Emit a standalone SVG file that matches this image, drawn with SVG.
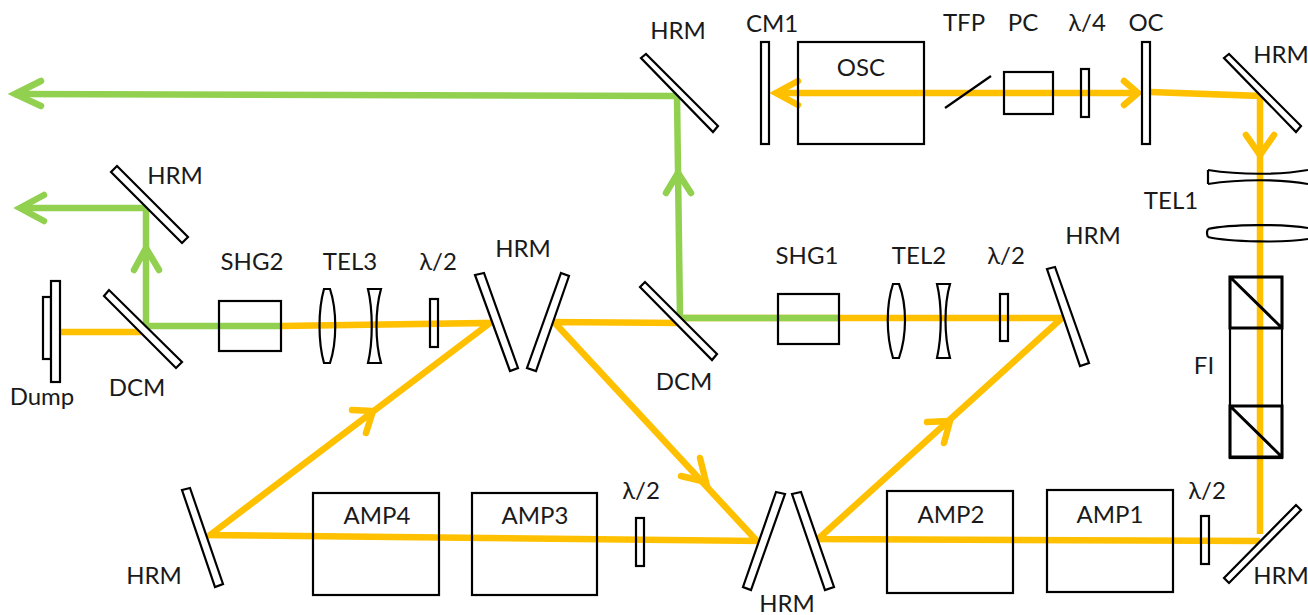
<svg xmlns="http://www.w3.org/2000/svg" width="1308" height="615" viewBox="0 0 1308 615">
<style>
text{font-family:"Lato","Open Sans","DejaVu Sans",sans-serif;font-size:24px;fill:#1a1a1a;text-anchor:middle}
.o{fill:none;stroke:#ffc000;stroke-width:6.5}
.g{fill:none;stroke:#92d050;stroke-width:6.5}
.ah{stroke-linecap:round;stroke-linejoin:miter}
.m{fill:#fff;stroke:#000;stroke-width:2.2}
.t{fill:none;stroke:#000;stroke-width:2.2}
.b{fill:none;stroke:#000;stroke-width:2.2}
.k{fill:none;stroke:#000;stroke-width:3}
</style>
<rect width="1308" height="615" fill="#fff"/>
<g id="connectors">
<path class="o" d="M778 93H1135"/>
<path class="o ah" d="M798 81L776 93L798 105"/>
<path class="o ah" d="M1124 81L1138 93L1124 105"/>
<path class="o" d="M1150 92L1260 96V534"/>
<path class="o ah" d="M1246 135L1260 155L1274 135"/>
<path class="o" d="M1260 541L818 539L1062 318L680 318"/>
<path class="o" d="M683 323L554 322L757 541L210 535L490 323L281 326"/>
<path class="o" d="M60 332H142"/>
<path class="o ah" d="M681 476L706 482L700 458"/>
<path class="o ah" d="M927 422L950 421L944 443"/>
<path class="o ah" d="M352 410L373 411L366 433"/>
<path class="g" d="M838 318H680L677 96L14 94"/>
<path class="g ah" d="M666 193L678 173L691 193"/>
<path class="g ah" d="M41 81L15 94L41 106"/>
<path class="g" d="M281 326H146V208H22"/>
<path class="g ah" d="M134 270L146 248L159 270"/>
<path class="g ah" d="M44 195L20 208L44 221"/>
</g>
<g id="CM1"><rect class="m" x="761" y="42" width="8" height="102"/><text x="772" y="32">CM1</text></g>
<g id="OSC"><rect class="b" x="798" y="42" width="126" height="102"/><text x="861" y="76">OSC</text></g>
<g id="TFP"><line class="t" x1="945" y1="108" x2="991" y2="76"/><text x="964" y="31">TFP</text></g>
<g id="PC"><rect class="b" x="1004" y="72" width="49" height="42"/><text x="1023" y="31">PC</text></g>
<g id="qwp"><rect class="t" x="1081" y="69" width="8" height="48"/><text x="1087" y="31">λ/4</text></g>
<g id="OC"><rect class="m" x="1142" y="42" width="8" height="102"/><text x="1146" y="31">OC</text></g>
<g id="HRM1"><polygon class="m" points="1224,58 1229,54 1301,126 1296,132"/><text x="1281" y="63">HRM</text></g>
<g id="HRM2"><polygon class="m" points="641,58 646,54 718,126 713,132"/><text x="678" y="39">HRM</text></g>
<g id="TEL1">
<path class="t" d="M1208 170C1240 175 1280 175 1308 170M1208 184C1240 179 1280 179 1308 184M1208 170V184"/>
<path class="t" d="M1208 229C1230 224 1285 224 1308 228M1208 237C1230 242 1285 243 1308 239M1208 229Q1206 233 1208 237"/>
<text x="1171" y="209">TEL1</text></g>
<g id="FI">
<rect class="b" x="1230" y="277" width="52" height="181"/>
<path class="k" d="M1230 277H1282V328H1230ZM1230 277L1282 328M1230 406H1282V457H1230ZM1230 406L1282 457"/>
<text x="1204" y="374">FI</text></g>
<g id="HRM3"><polygon class="m" points="1224,578 1296,505 1301,510 1229,583"/><text x="1281" y="584">HRM</text></g>
<g id="hwp1"><rect class="t" x="1201" y="516" width="8" height="48"/><text x="1207" y="499">λ/2</text></g>
<g id="AMP1"><rect class="b" x="1047" y="490" width="126" height="102"/><text x="1110" y="523">AMP1</text></g>
<g id="AMP2"><rect class="b" x="887" y="491" width="126" height="102"/><text x="951" y="523">AMP2</text></g>
<g id="HRM4"><polygon class="m" points="792,494 801,492 834,587 825,590"/></g>
<g id="HRM5"><polygon class="m" points="776,492 785,494 751,590 743,587"/></g>
<text id="HRM5-label" x="787" y="612">HRM</text>
<g id="hwp2"><rect class="t" x="636" y="518" width="8" height="48"/><text x="641" y="499">λ/2</text></g>
<g id="AMP3"><rect class="b" x="472" y="493" width="125" height="102"/><text x="535" y="524">AMP3</text></g>
<g id="AMP4"><rect class="b" x="313" y="493" width="126" height="102"/><text x="377" y="524">AMP4</text></g>
<g id="HRM6"><polygon class="m" points="182,490 190,488 223,584 215,587"/><text x="154" y="584">HRM</text></g>
<g id="HRM7"><polygon class="m" points="475,275 484,273 518,368 510,371"/></g>
<g id="HRM8"><polygon class="m" points="561,273 569,276 536,371 527,368"/></g>
<text id="HRM7-label" x="523" y="257">HRM</text>
<g id="HRM9"><polygon class="m" points="1047,269 1055,267 1089,363 1080,366"/><text x="1093" y="244">HRM</text></g>
<g id="hwp3"><rect class="t" x="1000" y="294" width="8" height="47"/><text x="1006" y="264">λ/2</text></g>
<g id="TEL2">
<path class="t" d="M893 284H899C907 305 907 335 899 358H893C886 335 886 305 893 284Z"/>
<path class="t" d="M937 284H950C944 305 944 335 950 358H937C942 335 942 305 937 284Z"/>
<text x="919" y="264">TEL2</text></g>
<g id="SHG1"><rect class="b" x="778" y="294" width="61" height="50"/><text x="807" y="264">SHG1</text></g>
<g id="DCM2"><polygon class="m" points="640,287 645,282 717,354 712,360"/><text x="684" y="390">DCM</text></g>
<g id="hwp4"><rect class="t" x="430" y="299" width="8" height="48"/><text x="438" y="270">λ/2</text></g>
<g id="TEL3">
<path class="t" d="M324 289H330C337 310 337 342 330 363H324C318 342 318 310 324 289Z"/>
<path class="t" d="M368 289H381C375 310 375 342 381 363H368C373 342 373 310 368 289Z"/>
<text x="350" y="270">TEL3</text></g>
<g id="SHG2"><rect class="b" x="219" y="301" width="62" height="50"/><text x="252" y="270">SHG2</text></g>
<g id="DCM1"><polygon class="m" points="104,296 109,290 182,362 176,368"/><text x="137" y="396">DCM</text></g>
<g id="Dump"><rect class="m" x="43" y="297" width="8" height="62"/><rect class="m" x="51" y="281" width="9" height="101"/><text x="42" y="405">Dump</text></g>
<g id="HRM10"><polygon class="m" points="111,172 117,166 188,237 182,243"/><text x="175" y="184">HRM</text></g>
</svg>
